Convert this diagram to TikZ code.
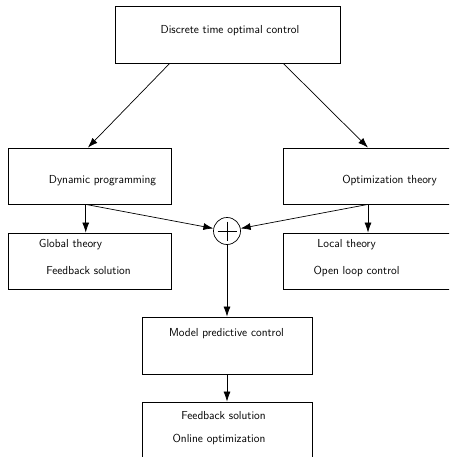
\documentclass[tikz,border=0pt]{standalone}
\usepackage{tikz}
\usetikzlibrary{calc,arrows.meta}
\tikzset{
  block/.style={draw, line width=0.8pt, rectangle, inner sep=0pt},
  txt/.style={inner sep=0pt, font=\sffamily\fontsize{11.6}{14}\selectfont},
  arr/.style={line width=0.7pt, -{Latex[length=10pt,width=7pt]}}
}

\begin{document}
\begin{tikzpicture}[x=1pt, y=-1pt]
			%%%%% START %%%%%
			\clip (0, 0) rectangle (449, 457);
			
			\node[block, minimum width=225pt, minimum height=57pt] (dtoc) at (227.5, 34.5) {};
			\node[txt] (dtoctxt) at (230, 31) {Discrete time optimal control};
			
			\node[block, minimum width=163pt, minimum height=56pt] (dp) at (89.5, 176) {};
			\node[txt] (dptxt) at (102.5, 181) {Dynamic programming};
			
			\node[block, minimum width=170pt, minimum height=56pt] (opt) at (368, 176) {};
			\node[txt] (opttxt) at (389.5, 181) {Optimization theory};
			
			\node[block, minimum width=163pt, minimum height=56pt] (glob) at (89.5, 261) {};
			\node[txt] (globtxt1) at (70.5, 245) {Global theory};
			\node[txt] (globtxt2) at (88.5, 271) {Feedback solution};
			
			\node[block, minimum width=170pt, minimum height=56pt] (loc) at (368, 261) {};
			\node[txt] (loctxt1) at (346.5, 245) {Local theory};
			\node[txt] (loctxt2) at (356.5, 271) {Open loop control};
			
			\node[draw, circle, line width=0.7pt, minimum size=27pt, inner sep=0pt] (sum) at (227, 231) {};
			\draw[line width=0.7pt] ($(sum.center)+(-9.5, 0)$) -- ($(sum.center)+(9.5, 0)$);
			\draw[line width=0.7pt] ($(sum.center)+(0, -9.5)$) -- ($(sum.center)+(0, 9.5)$);
			
			\node[block, minimum width=170pt, minimum height=57pt] (mpc) at (227, 345.5) {};
			\node[txt] (mpctxt) at (226.5, 334) {Model predictive control};
			
			\node[block, minimum width=170pt, minimum height=57pt] (fb) at (227, 430.5) {};
			\node[txt] (fbtxt1) at (223.5, 416) {Feedback solution};
			\node[txt] (fbtxt2) at (219, 439) {Online optimization};
			
			\draw[arr] ($(dtoc.south west)!0.244!(dtoc.south east)$) -- ($(dp.north west)!0.49!(dp.north east)$);
			\draw[arr] ($(dtoc.south west)!0.747!(dtoc.south east)$) -- (opt.north);
			
			\draw[arr] ($(dp.south west)!0.477!(dp.south east)$) -- ($(glob.north west)!0.477!(glob.north east)$);
			\draw[arr] (opt.south) -- (loc.north);
			\draw[arr] ($(dp.south west)!0.477!(dp.south east)$) -- (sum);
			\draw[arr] (opt.south) -- (sum);
			
			\draw[arr] (sum) -- (mpc);
			\draw[arr] (mpc) -- (fb);
			
			%%%%% END %%%%%
\end{tikzpicture}
\end{document}
